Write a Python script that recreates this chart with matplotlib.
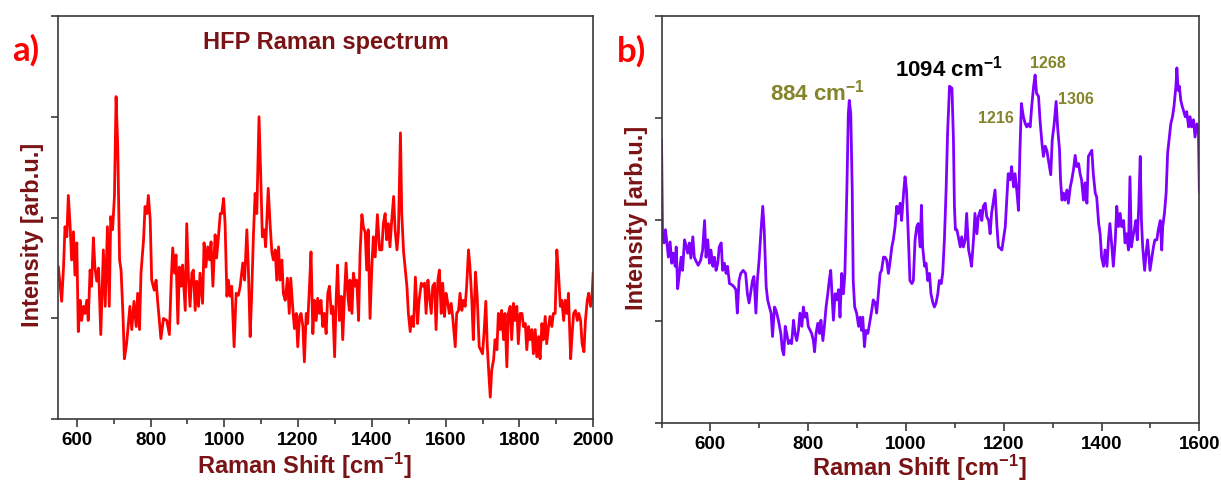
import matplotlib
matplotlib.use("Agg")
import matplotlib.pyplot as plt
from matplotlib.ticker import MultipleLocator, NullFormatter

# panel a) HFP Raman spectrum
hfp_shift = [550, 559, 564, 568, 573, 577, 582, 586, 591, 595, 600, 604, 609, 613, 618, 622, 627, 631, 636, 640,
             645, 649, 654, 659, 665, 672, 677, 683, 688, 692, 697, 702, 706.5, 711, 716, 720, 725, 729, 735, 744,
             749, 755, 761, 765, 770, 774, 781, 785, 790, 794, 799, 803, 810, 815, 819, 828, 835, 844, 851, 856,
             860, 865, 869, 874, 878, 883, 887, 894, 898, 903, 907, 912, 916, 921, 925, 930, 934, 941, 945, 950,
             955, 960, 964, 969, 975, 979, 984, 989, 993, 998, 1002, 1007, 1011, 1016, 1020, 1026.5, 1032, 1038, 1043, 1050,
             1055, 1061, 1065, 1070, 1074, 1079, 1083.5, 1088, 1094, 1099, 1103, 1108, 1112, 1119, 1124, 1129, 1133, 1138, 1142, 1147,
             1151, 1156, 1160, 1165, 1171, 1176, 1180, 1186, 1190, 1195, 1199, 1204, 1208, 1213, 1217, 1222, 1226, 1231, 1235, 1240,
             1244, 1249, 1253, 1258, 1262, 1267, 1271, 1276, 1280.5, 1285, 1290, 1294, 1299, 1303, 1307, 1312, 1317, 1321, 1326, 1330,
             1335, 1339, 1341, 1346, 1350, 1355, 1359, 1364, 1368, 1373, 1377, 1382, 1386, 1390, 1395, 1400, 1404, 1409, 1415, 1421,
             1427, 1431, 1436, 1440, 1445, 1449, 1454, 1459, 1463, 1468, 1472, 1477.5, 1481, 1486, 1490, 1495, 1499, 1504, 1508, 1513,
             1518, 1524, 1528, 1534, 1538, 1543, 1547, 1552, 1556, 1561, 1565, 1570, 1574, 1579, 1583, 1588, 1592, 1597, 1601, 1606,
             1610, 1615, 1619, 1626, 1630, 1635, 1639, 1644, 1648, 1653, 1657, 1662, 1666, 1671, 1675, 1681, 1685.5, 1691, 1695, 1700,
             1704, 1709, 1713, 1717, 1721, 1725, 1730, 1734, 1739, 1743, 1748, 1752, 1757, 1761, 1766, 1770, 1775, 1779, 1784, 1788,
             1793, 1797, 1802, 1807, 1811, 1816, 1820, 1825, 1829, 1834, 1838, 1843, 1847, 1852, 1856, 1861, 1865, 1870, 1874, 1879,
             1883, 1888, 1892, 1897, 1901.5, 1906, 1911, 1915, 1920, 1924, 1929, 1933, 1939, 1943, 1947, 1952, 1957, 1961, 1966, 1970,
             1975, 1979, 1984, 1988, 1993, 1997, 2000]
hfp_intensity = [1.51, 1.17, 1.51, 1.91, 1.81, 2.22, 1.91, 1.58, 1.86, 1.43, 1.75, 0.87, 1.18, 0.98, 1.12, 1.05, 1.18, 0.98, 1.48, 1.32,
                 1.80, 1.51, 1.37, 1.50, 0.84, 1.68, 1.12, 1.91, 1.12, 2.01, 1.88, 2.21, 3.20, 2.70, 1.58, 1.48, 1.05, 0.60, 0.75, 1.12,
                 0.89, 1.17, 0.92, 1.25, 0.89, 1.45, 1.78, 2.11, 2.04, 2.22, 1.98, 1.38, 1.28, 1.38, 1.18, 0.80, 1.00, 0.98, 0.84, 1.38,
                 1.70, 1.45, 1.63, 0.95, 1.51, 1.32, 1.53, 1.08, 1.94, 1.38, 1.12, 1.45, 1.48, 1.08, 1.37, 1.12, 1.45, 1.15, 1.75, 1.51,
                 1.71, 1.58, 1.76, 1.32, 1.83, 1.60, 1.81, 2.04, 2.04, 2.19, 1.94, 1.22, 1.38, 1.22, 1.32, 0.72, 1.25, 1.23, 1.32, 1.55,
                 1.38, 1.88, 1.51, 0.82, 1.22, 1.84, 2.24, 2.04, 3.00, 2.37, 1.81, 1.88, 1.71, 2.29, 1.94, 1.65, 1.58, 1.68, 1.38, 1.71,
                 1.38, 1.58, 1.25, 1.18, 1.40, 1.05, 1.40, 1.08, 0.90, 1.05, 0.72, 1.02, 1.05, 0.92, 0.57, 1.05, 0.95, 1.33, 1.66, 0.85,
                 1.18, 0.98, 1.20, 1.05, 1.18, 0.92, 1.05, 0.85, 1.25, 1.32, 1.05, 1.12, 0.62, 1.18, 1.53, 0.98, 1.22, 0.79, 1.25, 1.55,
                 1.22, 1.08, 1.38, 1.05, 1.45, 1.32, 1.38, 0.98, 1.65, 2.03, 1.91, 1.85, 1.48, 1.88, 1.00, 1.51, 1.81, 1.61, 2.03, 1.68,
                 1.68, 1.94, 2.04, 1.78, 1.94, 1.71, 1.98, 2.21, 1.88, 1.68, 1.85, 2.84, 2.04, 1.66, 1.51, 1.32, 1.05, 0.87, 1.02, 0.92,
                 1.41, 0.95, 1.18, 1.35, 1.32, 1.35, 1.05, 1.38, 1.22, 1.05, 1.32, 1.35, 0.89, 1.38, 1.48, 1.05, 1.35, 1.02, 1.25, 1.15,
                 1.05, 1.15, 1.02, 0.72, 1.05, 1.08, 1.25, 1.08, 1.18, 1.12, 1.32, 1.68, 1.51, 1.18, 0.79, 1.46, 1.22, 0.72, 0.69, 0.65,
                 0.85, 1.17, 0.72, 0.46, 0.22, 0.49, 0.59, 0.79, 0.69, 1.05, 0.89, 1.08, 0.79, 1.05, 0.52, 1.05, 1.12, 0.79, 1.15, 0.98,
                 1.12, 0.75, 1.05, 1.05, 0.92, 0.95, 0.69, 0.92, 0.79, 0.89, 0.65, 0.89, 0.62, 0.82, 0.60, 0.95, 0.79, 1.02, 0.75, 0.92,
                 1.02, 0.92, 1.05, 1.05, 1.68, 1.45, 1.12, 1.18, 0.98, 1.18, 1.05, 1.25, 0.60, 0.85, 1.05, 1.08, 0.98, 1.05, 0.98, 0.75,
                 0.67, 0.98, 1.18, 1.25, 1.12, 1.22, 1.45]

# panel b) spectrum with labelled bands
b_shift = [500, 502, 505, 508, 511, 514, 517.5, 521, 524, 528, 530, 533, 536.5, 540, 543, 547, 550, 553.5, 557, 560,
           564, 567, 570.6, 575, 580, 584, 588, 591, 594.5, 598, 601, 605, 608, 611.5, 615, 618, 622, 625, 628.5, 632,
           635, 639, 643.5, 648, 652, 655, 658.5, 662, 667, 672, 675.6, 679, 682, 686, 689, 693, 696, 699.5, 703, 707,
           710, 714, 717, 720.6, 724, 727, 731, 734, 739, 744, 747, 750, 753, 756, 759.5, 763, 766, 770, 773, 776.5,
           780, 783, 787, 790, 793.5, 797, 800, 804, 807, 810.5, 813, 816, 819.5, 823, 826, 830, 833, 836.5, 840, 843,
           846, 849, 851.5, 855, 858, 862, 865, 868.5, 872, 875, 879, 882, 884, 887, 890, 892, 895, 899, 903, 906,
           909, 911.5, 915, 918, 922, 926.5, 930, 933, 937, 940, 943.5, 947, 950, 954, 957, 960.5, 964, 967, 971, 974,
           977.6, 981, 984, 988, 991, 995, 998, 1001, 1005, 1008, 1012, 1015, 1018.5, 1022, 1025, 1029, 1031.5, 1034, 1038, 1041,
           1044.5, 1048, 1051, 1055, 1058, 1061.5, 1065, 1068, 1072, 1075, 1078.5, 1082, 1085, 1089, 1091.5, 1094, 1097, 1099, 1101, 1104,
           1107, 1111, 1114, 1117.4, 1121, 1124, 1128, 1131, 1134, 1138, 1141, 1145, 1148, 1152, 1155, 1158, 1162, 1165, 1169, 1172,
           1175, 1179, 1182, 1186, 1189, 1192, 1196, 1199, 1203, 1206, 1209, 1213, 1216, 1220, 1223, 1227, 1230, 1233, 1236, 1240,
           1244, 1247, 1250, 1254, 1257, 1261, 1264, 1267, 1271, 1274, 1278, 1281, 1284.5, 1288, 1291, 1296, 1299, 1303, 1307, 1310,
           1314, 1316, 1319, 1322, 1325, 1329, 1332, 1336, 1339, 1342.5, 1346, 1349, 1353, 1356, 1359, 1363, 1366, 1370, 1373, 1376.5,
           1380, 1383, 1387, 1390, 1394, 1397, 1400, 1404, 1407, 1411, 1414, 1417, 1421, 1424, 1428, 1431, 1434.5, 1438, 1441, 1445,
           1448, 1451, 1455, 1458, 1461, 1464, 1467, 1470, 1473, 1476, 1479, 1481.5, 1484, 1488, 1491, 1494, 1497, 1499, 1503, 1506,
           1509, 1513, 1516, 1520, 1523, 1525, 1528.5, 1532, 1535, 1538, 1541.5, 1545, 1548, 1552, 1554, 1556.5, 1559, 1562, 1565, 1567,
           1571, 1574, 1578, 1581, 1584, 1588, 1591, 1595, 1598, 1600]
b_intensity = [2.78, 1.86, 1.77, 1.90, 1.77, 1.63, 1.78, 1.57, 1.67, 1.54, 1.73, 1.32, 1.47, 1.63, 1.50, 1.80, 1.75, 1.67, 1.77, 1.62,
               1.83, 1.63, 1.59, 1.55, 1.60, 1.70, 1.99, 1.63, 1.80, 1.57, 1.70, 1.54, 1.63, 1.50, 1.57, 1.73, 1.77, 1.50, 1.57, 1.47,
               1.54, 1.37, 1.36, 1.34, 1.31, 1.08, 1.40, 1.47, 1.50, 1.47, 1.27, 1.18, 1.27, 1.40, 1.44, 1.08, 1.40, 1.60, 1.86, 2.13,
               1.90, 1.34, 1.21, 1.14, 1.08, 0.85, 1.14, 1.11, 1.01, 0.88, 0.72, 0.67, 0.95, 0.88, 0.78, 0.81, 0.78, 1.01, 0.88, 0.81,
               0.91, 1.08, 0.95, 1.14, 1.04, 1.08, 0.95, 0.91, 0.88, 0.81, 0.70, 0.88, 0.98, 0.88, 1.01, 0.81, 0.95, 1.14, 1.27, 1.40,
               1.50, 1.24, 1.01, 1.27, 1.21, 1.31, 1.04, 1.47, 1.27, 1.47, 2.29, 3.04, 3.17, 3.04, 2.29, 1.40, 1.14, 1.08, 0.95, 1.04,
               0.91, 1.04, 0.75, 0.91, 0.88, 1.01, 1.11, 1.21, 1.18, 1.08, 1.27, 1.47, 1.50, 1.63, 1.63, 1.60, 1.47, 1.57, 1.73, 1.80,
               1.93, 2.13, 2.06, 2.16, 1.99, 2.26, 2.42, 2.29, 1.80, 1.40, 1.37, 1.40, 1.80, 1.93, 1.96, 1.73, 2.14, 1.73, 1.54, 1.57,
               1.40, 1.47, 1.27, 1.18, 1.14, 1.18, 1.27, 1.40, 1.37, 1.47, 1.80, 2.29, 2.85, 3.31, 3.30, 3.29, 2.78, 2.13, 1.90, 1.90,
               1.83, 1.73, 1.83, 1.73, 1.80, 2.06, 1.70, 1.63, 1.54, 1.80, 2.06, 1.86, 2.03, 2.09, 1.99, 2.13, 2.16, 2.03, 1.99, 1.86,
               2.06, 2.19, 2.29, 1.93, 1.73, 1.72, 1.70, 1.80, 1.93, 2.19, 2.45, 2.39, 2.52, 2.32, 2.45, 2.26, 2.09, 2.68, 3.14, 3.01,
               2.94, 2.91, 2.94, 2.91, 3.11, 3.31, 3.42, 3.24, 3.21, 2.98, 2.75, 2.62, 2.72, 2.68, 2.59, 2.44, 2.78, 2.94, 3.16, 2.91,
               2.68, 2.39, 2.19, 2.26, 2.19, 2.29, 2.16, 2.32, 2.39, 2.49, 2.63, 2.52, 2.55, 2.45, 2.39, 2.19, 2.36, 2.16, 2.62, 2.65,
               2.68, 2.45, 2.26, 2.22, 1.96, 1.86, 1.63, 1.54, 1.70, 1.54, 1.80, 1.96, 1.73, 1.54, 1.80, 2.13, 1.93, 2.06, 1.93, 1.99,
               1.77, 1.86, 1.70, 2.42, 1.73, 1.83, 1.90, 1.99, 1.80, 2.13, 2.62, 1.99, 1.73, 1.50, 1.67, 1.80, 1.63, 1.50, 1.63, 1.73,
               1.80, 1.80, 1.90, 1.99, 1.70, 1.93, 2.06, 2.26, 2.65, 2.78, 2.94, 3.01, 3.11, 3.31, 3.49, 3.27, 3.31, 3.17, 3.11, 3.08,
               3.01, 3.06, 2.91, 3.01, 2.91, 2.98, 2.81, 2.94, 2.88, 2.27]

# band labels: (text, x, y, colour, size)
b_labels = [("884 cm$^{\\mathbf{-1}}$", 722, 3.17, "#84842a", 16),
            ("1094 cm$^{\\mathbf{-1}}$", 977, 3.41, "black", 16),
            ("1216", 1147, 2.95, "#84842a", 11.5),
            ("1268", 1254, 3.49, "#84842a", 11.5),
            ("1306", 1311, 3.14, "#84842a", 11.5)]

LABEL_RED = "#7a1315"
SPINE = "#3a3a3a"

plt.rcParams['font.family'] = ['Liberation Sans', 'DejaVu Sans']
plt.rcParams['font.weight'] = 'bold'
plt.rcParams['mathtext.fontset'] = 'custom'
plt.rcParams['mathtext.rm'] = 'Liberation Sans:bold'
plt.rcParams['mathtext.bf'] = 'Liberation Sans:bold'
plt.rcParams['mathtext.default'] = 'bf'


def style_axes(ax, xmin, xmax):
    ax.set_xlim(xmin, xmax)
    ax.set_ylim(0, 4)
    ax.xaxis.set_major_locator(MultipleLocator(200))
    ax.xaxis.set_minor_locator(MultipleLocator(100))
    ax.yaxis.set_major_locator(MultipleLocator(1))
    ax.yaxis.set_major_formatter(NullFormatter())
    ax.tick_params(axis='x', which='major', direction='out', length=6, width=1.2,
                   color=SPINE, labelsize=13.5, pad=3)
    ax.tick_params(axis='x', which='minor', direction='out', length=3.5, width=1.2, color=SPINE)
    ax.tick_params(axis='y', which='major', direction='out', length=5, width=1.2, color=SPINE)
    for lbl in ax.get_xticklabels():
        lbl.set_fontweight('bold')
    for sp in ax.spines.values():
        sp.set_color(SPINE)
        sp.set_linewidth(1.2)
    ax.set_xlabel("Raman Shift [cm$^{\\mathbf{-1}}$]", fontsize=17, color=LABEL_RED, fontweight='bold')
    ax.set_ylabel("Intensity [arb.u.]", fontsize=17, color=LABEL_RED, fontweight='bold')


fig = plt.figure(figsize=(12.21, 4.82), dpi=100)

ax1 = fig.add_axes([0.0478, 0.130, 0.438, 0.837])
ax1.plot(hfp_shift, hfp_intensity, color='#ff0000', linewidth=2.0)
style_axes(ax1, 550, 2000)
ax1.xaxis.set_label_coords(0.46, -0.078)
ax1.yaxis.set_label_coords(-0.026, 0.458)
ax1.text(0.5, 0.935, "HFP Raman spectrum", transform=ax1.transAxes, ha='center', va='center',
         fontsize=17, color=LABEL_RED, fontweight='bold')

ax2 = fig.add_axes([0.5418, 0.1224, 0.4405, 0.8444])
ax2.plot(b_shift, b_intensity, color='#8000ff', linewidth=2.0)
style_axes(ax2, 500, 1600)
ax2.xaxis.set_label_coords(0.48, -0.072)
ax2.yaxis.set_label_coords(-0.026, 0.505)
for text, x, y, col, size in b_labels:
    ax2.text(x, y, text, ha='left', va='baseline', fontsize=size, color=col, fontweight='bold')

fig.text(0.021, 0.895, "a)", fontsize=25, color='#ff0000', fontweight='bold',
         family=['Lato', 'DejaVu Sans'], ha='center', va='center')
fig.text(0.517, 0.893, "b)", fontsize=25, color='#ff0000', fontweight='bold',
         family=['Lato', 'DejaVu Sans'], ha='center', va='center')

fig.savefig("out.png", dpi=100)
